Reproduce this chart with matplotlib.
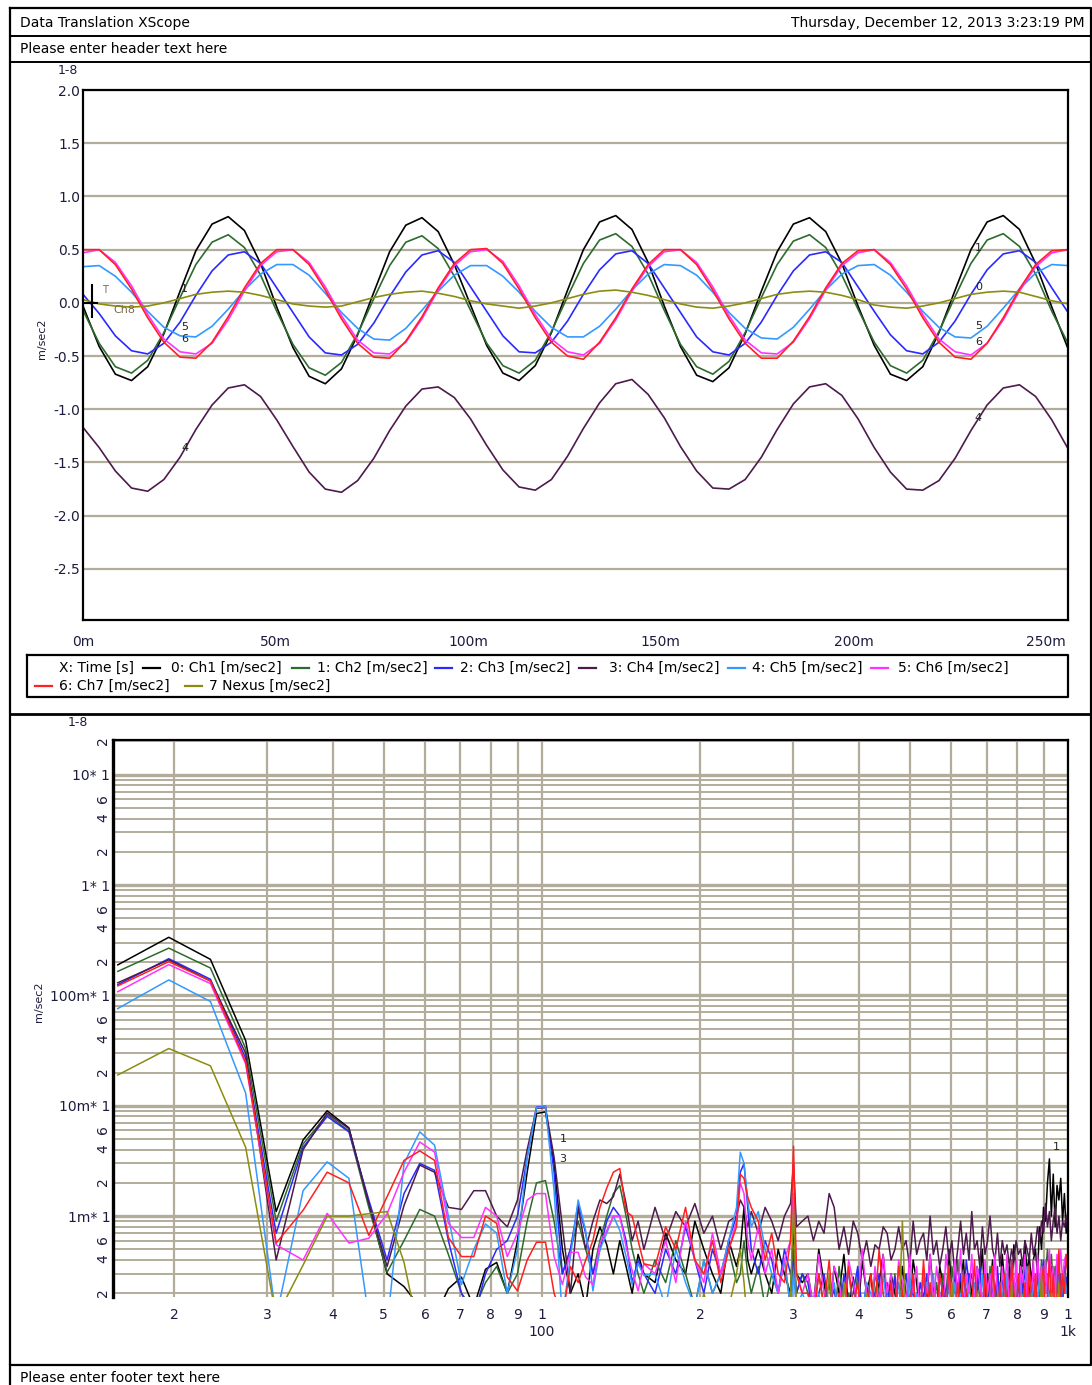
import numpy as np
import matplotlib
matplotlib.use("Agg")
import matplotlib.pyplot as plt
from matplotlib.ticker import NullLocator, NullFormatter

# ---- time record (top plot), t in ms ----
t_ms = [0.0, 4.2, 8.4, 12.6, 16.8, 21.0, 25.2, 29.3, 33.5, 37.7, 41.9, 46.1,
        50.3, 54.5, 58.7, 62.9, 67.1, 71.3, 75.5, 79.6, 83.8, 88.0, 92.2, 96.4,
        100.6, 104.8, 109.0, 113.2, 117.4, 121.6, 125.8, 129.9, 134.1, 138.3, 142.5, 146.7,
        150.9, 155.1, 159.3, 163.5, 167.7, 171.9, 176.1, 180.2, 184.4, 188.6, 192.8, 197.0,
        201.2, 205.4, 209.6, 213.8, 218.0, 222.2, 226.4, 230.5, 234.7, 238.9, 243.1, 247.3,
        251.5, 255.7]

ch1 = [-0.03, -0.41, -0.67, -0.73, -0.60, -0.29, 0.11, 0.49, 0.74, 0.81, 0.68, 0.37,
       -0.04, -0.42, -0.69, -0.76, -0.62, -0.30, 0.10, 0.48, 0.73, 0.80, 0.67, 0.36,
       -0.02, -0.40, -0.66, -0.73, -0.59, -0.28, 0.12, 0.50, 0.76, 0.82, 0.69, 0.38,
       -0.03, -0.41, -0.68, -0.74, -0.61, -0.29, 0.11, 0.48, 0.74, 0.80, 0.67, 0.37,
       -0.03, -0.40, -0.67, -0.73, -0.60, -0.28, 0.12, 0.50, 0.76, 0.82, 0.69, 0.37,
       -0.04, -0.43]
ch2 = [-0.07, -0.38, -0.60, -0.66, -0.54, -0.28, 0.05, 0.36, 0.57, 0.64, 0.52, 0.26,
       -0.08, -0.39, -0.61, -0.68, -0.56, -0.29, 0.04, 0.35, 0.57, 0.63, 0.51, 0.25,
       -0.07, -0.38, -0.59, -0.66, -0.54, -0.27, 0.06, 0.37, 0.59, 0.65, 0.53, 0.27,
       -0.07, -0.39, -0.60, -0.67, -0.55, -0.28, 0.05, 0.36, 0.58, 0.64, 0.52, 0.26,
       -0.06, -0.37, -0.59, -0.66, -0.54, -0.27, 0.06, 0.37, 0.59, 0.65, 0.53, 0.27,
       -0.08, -0.38]
ch3 = [0.08, -0.10, -0.31, -0.45, -0.48, -0.38, -0.18, 0.07, 0.30, 0.45, 0.48, 0.37,
       0.14, -0.09, -0.32, -0.47, -0.49, -0.39, -0.19, 0.06, 0.29, 0.45, 0.49, 0.38,
       0.15, -0.08, -0.31, -0.46, -0.47, -0.37, -0.17, 0.08, 0.31, 0.46, 0.49, 0.37,
       0.14, -0.09, -0.32, -0.46, -0.49, -0.38, -0.18, 0.07, 0.30, 0.45, 0.48, 0.38,
       0.15, -0.08, -0.30, -0.45, -0.48, -0.37, -0.17, 0.08, 0.31, 0.46, 0.49, 0.38,
       0.14, -0.09]
ch4 = [-1.17, -1.36, -1.58, -1.74, -1.77, -1.66, -1.45, -1.19, -0.96, -0.80, -0.77, -0.88,
       -1.10, -1.35, -1.59, -1.75, -1.78, -1.67, -1.46, -1.20, -0.97, -0.81, -0.79, -0.89,
       -1.09, -1.34, -1.57, -1.73, -1.76, -1.66, -1.44, -1.18, -0.94, -0.76, -0.72, -0.86,
       -1.08, -1.35, -1.58, -1.74, -1.75, -1.66, -1.45, -1.19, -0.95, -0.79, -0.76, -0.87,
       -1.09, -1.36, -1.59, -1.75, -1.76, -1.67, -1.46, -1.20, -0.96, -0.80, -0.77, -0.88,
       -1.10, -1.37]
ch5 = [0.34, 0.35, 0.25, 0.10, -0.08, -0.23, -0.31, -0.32, -0.22, -0.06, 0.12, 0.27,
       0.36, 0.36, 0.26, 0.09, -0.09, -0.24, -0.34, -0.35, -0.24, -0.07, 0.11, 0.26,
       0.35, 0.35, 0.25, 0.10, -0.08, -0.23, -0.32, -0.32, -0.22, -0.06, 0.12, 0.27,
       0.36, 0.35, 0.26, 0.10, -0.09, -0.24, -0.33, -0.34, -0.23, -0.06, 0.12, 0.27,
       0.35, 0.36, 0.26, 0.10, -0.08, -0.23, -0.32, -0.33, -0.22, -0.05, 0.13, 0.28,
       0.36, 0.35]
ch6 = [0.47, 0.50, 0.38, 0.16, -0.11, -0.34, -0.46, -0.48, -0.38, -0.16, 0.11, 0.35,
       0.48, 0.50, 0.38, 0.15, -0.12, -0.35, -0.47, -0.48, -0.37, -0.15, 0.12, 0.35,
       0.48, 0.50, 0.39, 0.16, -0.11, -0.34, -0.46, -0.49, -0.38, -0.16, 0.11, 0.34,
       0.48, 0.50, 0.38, 0.15, -0.12, -0.35, -0.47, -0.48, -0.37, -0.15, 0.12, 0.35,
       0.47, 0.50, 0.38, 0.16, -0.11, -0.34, -0.46, -0.49, -0.38, -0.16, 0.11, 0.34,
       0.47, 0.50]
ch7 = [0.50, 0.50, 0.36, 0.13, -0.14, -0.37, -0.51, -0.52, -0.37, -0.13, 0.14, 0.37,
       0.50, 0.50, 0.36, 0.12, -0.15, -0.38, -0.51, -0.52, -0.36, -0.13, 0.14, 0.37,
       0.50, 0.51, 0.37, 0.13, -0.14, -0.37, -0.50, -0.53, -0.37, -0.14, 0.13, 0.36,
       0.50, 0.50, 0.36, 0.12, -0.15, -0.38, -0.52, -0.52, -0.36, -0.13, 0.14, 0.37,
       0.49, 0.50, 0.36, 0.13, -0.14, -0.37, -0.51, -0.53, -0.38, -0.14, 0.13, 0.36,
       0.49, 0.50]
nexus = [0.03, -0.01, -0.03, -0.04, -0.03, 0.00, 0.04, 0.08, 0.10, 0.11, 0.10, 0.07,
         0.03, -0.01, -0.03, -0.04, -0.03, 0.01, 0.05, 0.08, 0.10, 0.11, 0.09, 0.06,
         0.02, -0.01, -0.03, -0.05, -0.03, 0.00, 0.04, 0.08, 0.11, 0.12, 0.10, 0.07,
         0.03, -0.01, -0.04, -0.05, -0.03, 0.00, 0.04, 0.08, 0.10, 0.11, 0.10, 0.07,
         0.03, -0.02, -0.04, -0.05, -0.03, 0.00, 0.04, 0.08, 0.10, 0.11, 0.10, 0.06,
         0.02, -0.01]

# ---- spectrum (bottom plot): FFT bin numbers, bin width 1/0.256 s ----
bins = [4, 5, 6, 7, 8, 9, 10, 11, 12, 13, 14, 15, 16, 17, 18, 19, 20, 21, 22, 23, 24,
        25, 26, 27, 28, 29, 30, 31, 32, 33, 34, 35, 36, 37, 38, 39, 40,
        42, 44, 46, 48, 50, 52, 54, 56, 58, 60, 61, 62, 63, 64, 66, 68, 70, 72, 74, 76,
        77, 78, 80,
        82, 84, 86, 88, 90, 92, 94, 96, 98, 100, 102, 104, 106, 108, 110, 112, 114, 116,
        118, 120, 122, 124, 126, 128, 130, 132, 134, 136, 138, 140, 142, 144, 146, 148,
        150, 152, 154, 156, 158, 160, 162, 164, 166, 168, 170, 172, 174, 176, 178, 180,
        182, 184, 186, 188, 190, 192, 194, 196, 198, 200, 202, 204, 206, 208, 210, 212,
        214, 216, 218, 220, 222, 224, 226, 228, 230, 232, 234, 236, 238, 240, 242, 244,
        246, 248, 250, 252, 254, 256]
bin_hz = 1 / 0.256

# magnitudes in milli m/sec2
sp1 = [189, 336, 212, 39, 1.1, 4.9, 9.0, 6.3, 1.3, 0.30, 0.23, 0.15, 0.12, 0.22, 0.28, 0.15,
       0.33, 0.38, 0.20, 0.60, 2.5, 8.5, 8.8, 3.0, 0.50, 0.20, 0.30, 0.15, 0.50, 0.80, 0.55,
       0.30, 0.60, 0.35, 0.20, 0.45, 0.30,
       0.25, 0.7, 0.4, 0.3, 0.9, 0.5, 0.3, 0.2, 0.6, 0.35, 0.5, 1.2, 0.4, 0.3, 0.5, 0.3, 0.2,
       0.5, 0.3, 0.2, 0.8, 0.3, 0.25,
       0.3, 0.15, 0.5, 0.25, 0.12, 0.35, 0.2, 0.45, 0.15, 0.28,
       0.12, 0.4, 0.2, 0.3, 0.12, 0.25, 0.45, 0.15, 0.3, 0.2,
       0.12, 0.35, 0.2, 0.15, 0.4, 0.25, 0.12, 0.3, 0.18, 0.45,
       0.2, 0.12, 0.35, 0.25, 0.15, 0.5, 0.2, 0.3, 0.12, 0.25,
       0.4, 0.15, 0.3, 0.2, 0.12, 0.35, 0.25, 0.5, 0.15, 0.3,
       0.2, 0.4, 0.12, 0.3, 0.2, 0.45, 0.25, 0.15, 0.35, 0.2,
       0.55, 0.3, 0.2, 0.4, 0.25, 0.6, 0.3, 0.45, 0.25, 0.4,
       0.5, 0.3, 0.8, 0.5, 1.2, 0.9, 2.0, 3.3, 1.0, 2.4,
       0.8, 1.9, 1.4, 2.2, 0.9, 1.6, 0.7, 1.2]
sp2 = [165, 268, 177, 33, 0.9, 4.5, 8.3, 5.9, 1.2, 0.31, 0.6, 1.15, 1.0, 0.45, 0.2, 0.14,
       0.25, 0.35, 0.2, 0.3, 0.9, 2.0, 2.1, 0.9, 0.3, 0.5, 0.9, 0.5, 0.3, 0.6, 1.0, 1.6, 1.9,
       1.0, 0.5, 0.3, 0.2,
       0.4, 0.25, 0.6, 0.3, 0.15, 0.4, 0.2, 0.3, 0.5, 0.25, 0.3, 0.6, 0.3, 0.2, 0.35, 0.15,
       0.3, 0.2, 0.4, 0.15, 0.5, 0.2, 0.3,
       0.2, 0.12, 0.3, 0.15, 0.25, 0.1, 0.35, 0.15, 0.2, 0.12,
       0.3, 0.15, 0.22, 0.1, 0.3, 0.2, 0.12, 0.25, 0.15, 0.3,
       0.12, 0.2, 0.15, 0.28, 0.1, 0.2, 0.15, 0.3, 0.12, 0.22,
       0.15, 0.25, 0.12, 0.3, 0.2, 0.1, 0.35, 0.2, 0.4, 0.15,
       0.3, 0.2, 0.25, 0.15, 0.12, 0.3, 0.18, 0.1, 0.25, 0.15,
       0.35, 0.12, 0.2, 0.3, 0.15, 0.1, 0.25, 0.2, 0.12, 0.3,
       0.15, 0.22, 0.12, 0.35, 0.2, 0.15, 0.3, 0.12, 0.25, 0.2,
       0.15, 0.3, 0.2, 0.4, 0.25, 0.3, 0.5, 0.3, 0.45, 0.25,
       0.35, 0.2, 0.3, 0.15, 0.25, 0.35, 0.2, 0.3]
sp3 = [125, 215, 140, 27, 0.7, 4.2, 8.0, 5.8, 1.4, 0.4, 1.6, 3.0, 2.6, 0.6, 0.2, 0.12, 0.3,
       0.5, 0.6, 1.0, 3.4, 9.7, 9.9, 2.5, 0.3, 0.5, 1.3, 0.7, 0.3, 0.5, 0.9, 1.2, 1.0, 0.6,
       0.25, 0.4, 0.3,
       0.2, 0.5, 0.3, 0.8, 0.4, 0.2, 0.5, 0.3, 0.6, 1.0, 2.5, 3.0, 1.2, 0.5, 0.3, 0.6, 0.4,
       0.2, 0.5, 0.3, 0.4, 0.2, 0.3,
       0.25, 0.12, 0.2, 0.3, 0.15, 0.22, 0.1, 0.3, 0.15, 0.2,
       0.35, 0.12, 0.25, 0.15, 0.2, 0.3, 0.1, 0.22, 0.15, 0.28,
       0.12, 0.2, 0.3, 0.15, 0.22, 0.1, 0.25, 0.18, 0.3, 0.12,
       0.22, 0.15, 0.3, 0.2, 0.12, 0.28, 0.15, 0.35, 0.2, 0.3,
       0.15, 0.4, 0.25, 0.3, 0.12, 0.2, 0.35, 0.15, 0.25, 0.1,
       0.3, 0.2, 0.15, 0.35, 0.12, 0.25, 0.3, 0.15, 0.2, 0.4,
       0.15, 0.25, 0.12, 0.3, 0.2, 0.35, 0.15, 0.25, 0.12, 0.3,
       0.2, 0.35, 0.15, 0.25, 0.4, 0.2, 0.3, 0.15, 0.35, 0.2,
       0.25, 0.4, 0.2, 0.3, 0.15, 0.35, 0.25, 0.3]
sp4 = [130, 210, 135, 30, 0.4, 4.0, 8.6, 6.2, 1.3, 0.35, 1.25, 2.9, 2.5, 1.2, 1.15, 1.7,
       1.7, 1.0, 0.8, 1.4, 4.0, 9.5, 9.6, 3.4, 0.8, 0.2, 1.2, 0.5, 0.9, 1.4, 1.3, 1.5, 2.4,
       1.3, 0.6, 0.9, 0.5,
       1.2, 0.6, 1.1, 0.8, 1.3, 0.7, 1.0, 0.5, 0.9, 1.0, 1.4, 1.2, 0.8, 1.1, 0.7, 1.2, 0.9,
       0.6, 1.0, 1.3, 3.0, 0.8, 0.9,
       1.0, 0.6, 0.9, 0.7, 1.6, 1.2, 0.5, 0.8, 0.45, 0.9,
       0.7, 0.4, 0.6, 0.35, 0.55, 0.5, 0.8, 0.7, 0.4, 0.5,
       0.8, 0.5, 0.6, 0.35, 0.9, 0.45, 0.6, 0.7, 0.4, 1.0,
       0.45, 0.6, 0.35, 0.5, 0.8, 0.4, 0.6, 0.3, 0.5, 0.9,
       0.45, 0.7, 0.4, 1.1, 0.5, 0.6, 0.35, 0.8, 0.45, 0.6,
       1.0, 0.5, 0.4, 0.7, 0.35, 0.6, 0.45, 0.55, 0.35, 0.5,
       0.4, 0.6, 0.45, 0.5, 0.35, 0.6, 0.5, 0.4, 0.7, 0.45,
       0.55, 0.8, 0.6, 0.9, 0.7, 1.3, 0.8, 1.1, 0.6, 0.9,
       1.2, 0.7, 1.0, 0.6, 0.9, 0.8, 1.0, 0.7]
sp5 = [76, 138, 88, 13, 0.12, 1.7, 3.1, 2.2, 0.12, 0.1, 3.0, 5.8, 4.4, 1.0, 0.24, 0.5,
       0.85, 0.7, 0.2, 0.5, 3.4, 9.6, 9.8, 1.7, 0.12, 0.43, 1.4, 0.74, 0.21, 0.5, 0.7, 1.0,
       0.74, 0.43, 0.24, 0.37, 0.29,
       0.3, 0.15, 0.5, 0.25, 0.15, 0.4, 0.2, 0.3, 0.6, 1.2, 3.8, 3.0, 1.4, 0.8, 1.1, 0.5, 0.3,
       0.2, 0.4, 0.15, 0.3, 0.15, 0.2,
       0.15, 0.12, 0.2, 0.1, 0.15, 0.25, 0.12, 0.2, 0.3, 0.15,
       0.1, 0.12, 0.25, 0.2, 0.12, 0.1, 0.3, 0.15, 0.2, 0.12,
       0.25, 0.15, 0.1, 0.3, 0.12, 0.2, 0.15, 0.12, 0.25, 0.15,
       0.3, 0.12, 0.2, 0.1, 0.15, 0.35, 0.12, 0.25, 0.15, 0.2,
       0.12, 0.3, 0.15, 0.1, 0.25, 0.2, 0.12, 0.3, 0.15, 0.1,
       0.2, 0.35, 0.15, 0.12, 0.25, 0.2, 0.1, 0.3, 0.15, 0.22,
       0.12, 0.25, 0.15, 0.3, 0.1, 0.2, 0.35, 0.15, 0.12, 0.25,
       0.2, 0.15, 0.3, 0.12, 0.35, 0.2, 0.25, 0.15, 0.3, 0.2,
       0.12, 0.35, 0.2, 0.15, 0.25, 0.3, 0.2, 0.25]
sp6 = [108, 190, 128, 24, 0.55, 0.4, 1.06, 0.57, 0.63, 1.05, 2.5, 4.7, 3.8, 0.86, 0.64,
       0.64, 1.2, 1.0, 0.43, 0.7, 1.4, 1.6, 1.6, 0.43, 0.24, 0.47, 0.47, 0.28, 0.24, 0.57,
       0.74, 1.0, 1.0, 0.53, 0.32, 0.21, 0.37,
       0.3, 0.6, 0.25, 0.9, 0.4, 0.25, 0.7, 0.3, 0.5, 0.9, 2.0, 1.6, 0.6, 0.4, 0.8, 0.3, 0.5,
       0.2, 0.4, 0.6, 1.6, 0.3, 0.2,
       0.3, 0.15, 0.45, 0.2, 0.12, 0.35, 0.25, 0.12, 0.4, 0.25,
       0.15, 0.5, 0.2, 0.12, 0.35, 0.15, 0.45, 0.2, 0.3, 0.12,
       0.4, 0.25, 0.15, 0.45, 0.2, 0.35, 0.12, 0.3, 0.2, 0.45,
       0.15, 0.35, 0.2, 0.12, 0.45, 0.25, 0.15, 0.4, 0.2, 0.5,
       0.12, 0.3, 0.2, 0.45, 0.15, 0.35, 0.25, 0.12, 0.4, 0.2,
       0.3, 0.15, 0.45, 0.2, 0.12, 0.35, 0.2, 0.45, 0.15, 0.3,
       0.2, 0.4, 0.12, 0.35, 0.25, 0.45, 0.15, 0.3, 0.2, 0.4,
       0.15, 0.45, 0.25, 0.35, 0.15, 0.4, 0.2, 0.5, 0.25, 0.35,
       0.2, 0.45, 0.3, 0.5, 0.25, 0.4, 0.45, 0.3]
sp7 = [122, 202, 135, 25, 0.57, 1.13, 2.5, 2.0, 0.67, 1.5, 3.2, 3.9, 3.2, 0.64, 0.43, 0.43,
       1.0, 0.86, 0.28, 0.21, 0.4, 0.58, 0.58, 0.2, 0.12, 0.35, 0.25, 0.4, 0.6, 1.2, 1.8,
       2.5, 2.7, 1.1, 1.0, 0.6, 0.37,
       0.35, 0.8, 0.5, 1.2, 0.4, 0.3, 0.6, 0.25, 0.5, 0.8, 2.4, 2.2, 1.5, 1.2, 0.9, 0.4, 0.7,
       0.3, 0.25, 0.6, 4.3, 0.3, 0.2,
       0.2, 0.12, 0.3, 0.15, 0.4, 0.1, 0.2, 0.12, 0.35, 0.15,
       0.25, 0.1, 0.12, 0.3, 0.15, 0.5, 0.2, 0.12, 0.25, 0.1,
       0.35, 0.2, 0.12, 0.15, 0.3, 0.1, 0.12, 0.4, 0.15, 0.25,
       0.12, 0.1, 0.3, 0.2, 0.12, 0.35, 0.15, 0.1, 0.25, 0.12,
       0.3, 0.2, 0.1, 0.15, 0.4, 0.12, 0.2, 0.1, 0.3, 0.15,
       0.12, 0.35, 0.2, 0.1, 0.25, 0.12, 0.3, 0.15, 0.1, 0.4,
       0.2, 0.12, 0.3, 0.15, 0.1, 0.25, 0.12, 0.35, 0.2, 0.1,
       0.3, 0.15, 0.12, 0.25, 0.35, 0.12, 0.2, 0.4, 0.15, 0.3,
       0.12, 0.2, 0.5, 0.15, 0.3, 0.2, 0.45, 0.3]
sp8 = [19, 33, 23, 4.2, 0.12, 0.36, 1.0, 1.0, 1.05, 1.1, 0.38, 0.08, 0.1, 0.08, 0.12, 0.1,
       0.08, 0.1, 0.15, 0.1, 0.08, 0.1, 0.12, 0.08, 0.1, 0.08, 0.15, 0.1, 0.08, 0.12, 0.1,
       0.08, 0.12, 0.1, 0.08, 0.1, 0.15,
       0.1, 0.08, 0.12, 0.1, 0.08, 0.2, 0.1, 0.08, 0.15, 0.3, 0.5, 0.25, 0.1, 0.08, 0.12, 0.1,
       0.08, 0.15, 0.1, 0.2, 1.2, 0.15, 0.1,
       0.1, 0.08, 0.12, 0.08, 0.3, 0.1, 0.08, 0.25, 0.1, 0.08,
       0.12, 0.08, 0.2, 0.1, 0.08, 0.12, 0.08, 0.1, 0.15, 0.08,
       0.1, 0.9, 0.1, 0.08, 0.12, 0.1, 0.08, 0.15, 0.1, 0.08,
       0.2, 0.1, 0.08, 0.12, 0.08, 0.1, 0.25, 0.08, 0.1, 0.12,
       0.08, 0.1, 0.15, 0.08, 0.1, 0.2, 0.08, 0.1, 0.12, 0.08,
       0.1, 0.15, 0.08, 0.2, 0.1, 0.08, 0.12, 0.1, 0.08, 0.25,
       0.1, 0.08, 0.12, 0.1, 0.08, 0.15, 0.1, 0.08, 0.2, 0.1,
       0.08, 0.12, 0.1, 0.3, 0.08, 0.1, 0.15, 0.08, 0.2, 0.1,
       0.08, 0.12, 0.25, 0.1, 0.08, 0.15, 0.1, 0.08]

names = ["0: Ch1 [m/sec2]", "1: Ch2 [m/sec2]", "2: Ch3 [m/sec2]", "3: Ch4 [m/sec2]",
         "4: Ch5 [m/sec2]", "5: Ch6 [m/sec2]", "6: Ch7 [m/sec2]", "7 Nexus [m/sec2]"]
colors = ["#000000", "#2d6b2d", "#2a2aff", "#4d1a4d", "#3399ff", "#ff33ff", "#ff2020", "#8c8c10"]
waves = [ch1, ch2, ch3, ch4, ch5, ch6, ch7, nexus]
spectra = [sp1, sp2, sp3, sp4, sp5, sp6, sp7, sp8]

grid_col = "#b2ad9b"
lab_col = "#1c1c3c"

plt.rcParams["font.family"] = "DejaVu Sans"
plt.rcParams["font.size"] = 10

W, H = 1092, 1385
fig = plt.figure(figsize=(W / 100, H / 100), dpi=100)

# page frame, drawn in pixel units
bg = fig.add_axes([0, 0, 1, 1])
bg.set_xlim(0, W)
bg.set_ylim(H, 0)
bg.axis("off")
bg.plot([10, 1091, 1091, 10, 10], [8, 8, 1365, 1365, 8], color="black", lw=1.6)
for yy in [36, 62]:
    bg.plot([10, 1091], [yy, yy], color="black", lw=1.4)
bg.plot([10, 1091], [714, 714], color="black", lw=2.0)
bg.plot([10, 10], [1365, 1385], color="black", lw=1.6)
bg.text(20, 23, "Data Translation XScope", va="center", fontsize=10)
bg.text(1085, 23, "Thursday, December 12, 2013 3:23:19 PM", va="center", ha="right", fontsize=10)
bg.text(20, 49, "Please enter header text here", va="center", fontsize=10)
bg.text(20, 1378, "Please enter footer text here", va="center", fontsize=10)
bg.text(58, 71, "1-8", va="center", fontsize=9, color=lab_col)
bg.text(68, 722, "1-8", va="center", fontsize=9, color=lab_col)

# legend box
bg.plot([27, 1068, 1068, 27, 27], [655, 655, 697, 697, 655], color="black", lw=1.6)
bg.text(59, 668, "X: Time [s]", va="center", fontsize=10)
row1_x = [(143, 171), (292, 317), (435, 460), (579, 609), (728, 752), (871, 898)]
for (lx, tx), name, col in zip(row1_x, names[:6], colors[:6]):
    bg.plot([lx, lx + 17], [668, 668], color=col, lw=1.6)
    bg.text(tx, 668, name, va="center", fontsize=10)
row2_x = [(35, 59), (185, 209)]
for (lx, tx), name, col in zip(row2_x, names[6:], colors[6:]):
    bg.plot([lx, lx + 17], [686, 686], color=col, lw=1.6)
    bg.text(tx, 686, name, va="center", fontsize=10)


def px_axes(x0, y0, x1, y1):
    return fig.add_axes([x0 / W, 1 - y1 / H, (x1 - x0) / W, (y1 - y0) / H])


# ---- top: time record ----
ax1 = px_axes(83, 90, 1068, 620)
for vals, col in zip(waves, colors):
    ax1.plot(t_ms, vals, color=col, lw=1.2)
ax1.set_xlim(0, 255.7)
ax1.set_ylim(-2.98, 2.0)
ax1.set_xticks([0, 50, 100, 150, 200, 250])
ax1.set_xticklabels(["0m", "50m", "100m", "150m", "200m", "250m"])
ax1.set_xticks([100, 150, 200, 250], minor=True)
yt = [-2.5, -2.0, -1.5, -1.0, -0.5, 0.0, 0.5, 1.0, 1.5, 2.0]
ax1.set_yticks(yt)
ax1.set_yticklabels([f"{v:.1f}" for v in yt])
ax1.set_axisbelow(True)
ax1.grid(axis="y", which="major", color=grid_col, lw=1.6)
ax1.grid(axis="x", which="minor", color=grid_col, lw=1.6)
ax1.tick_params(which="both", length=0, colors=lab_col)
ax1.tick_params(axis="x", pad=11)
ax1.tick_params(axis="y", pad=2)
for sp in ax1.spines.values():
    sp.set_linewidth(1.6)
ax1.set_ylabel("m/sec2", fontsize=8, color=lab_col)
ax1.yaxis.set_label_coords(-0.037, 0.53)

# trigger marker and trace numbers
ax1.plot([2.4, 2.4], [0.17, -0.13], color="black", lw=1.5)
ax1.plot([0, 3.6], [0, 0], color="black", lw=1.5)
ax1.text(5.0, 0.12, "T", fontsize=7, color="#7a6a50", va="center")
ax1.text(8.0, -0.07, "Ch8", fontsize=8, color="#7a6a50", va="center")
for tx, yv, s in [(25.5, 0.13, "1"), (25.5, -0.23, "5"), (25.5, -0.34, "6"), (25.5, -1.36, "4"),
                  (231.5, 0.52, "1"), (231.5, 0.15, "0"), (231.5, -0.22, "5"),
                  (231.5, -0.37, "6"), (231.5, -1.08, "4")]:
    ax1.text(tx, yv, s, fontsize=8, color="#222222", va="center")

# ---- bottom: spectrum ----
ax2 = px_axes(113, 740, 1068, 1297)
freqs = np.array(bins) * bin_hz
for vals, col in zip(spectra, colors):
    ax2.plot(freqs, np.array(vals) * 1e-3, color=col, lw=1.1)
ax2.set_xscale("log")
ax2.set_yscale("log")
ax2.set_xlim(15.3, 1000)
ax2.set_ylim(1.85e-4, 20.6)

xt = [20, 30, 40, 50, 60, 70, 80, 90, 100, 200, 300, 400, 500, 600, 700, 800, 900, 1000]
xl = ["2", "3", "4", "5", "6", "7", "8", "9", "1\n100", "2", "3", "4", "5", "6", "7", "8", "9", "1\n1k"]
ax2.set_xticks(xt)
ax2.set_xticklabels(xl, linespacing=1.3, va="top")
ax2.xaxis.set_minor_locator(NullLocator())
ax2.xaxis.set_minor_formatter(NullFormatter())

ygrid = [m * 10.0 ** e for e in range(-4, 2) for m in range(1, 10)]
ygrid = [v for v in ygrid if 1.9e-4 < v < 20.5]
ax2.yaxis.set_minor_locator(plt.FixedLocator(ygrid))
ax2.yaxis.set_minor_formatter(NullFormatter())
ylv = [2e-4, 4e-4, 6e-4, 1e-3, 2e-3, 4e-3, 6e-3, 1e-2, 2e-2, 4e-2, 6e-2,
       0.1, 0.2, 0.4, 0.6, 1, 2, 4, 6, 10, 20]
yll = ["2", "4", "6", "1m* 1", "2", "4", "6", "10m* 1", "2", "4", "6",
       "100m* 1", "2", "4", "6", "1* 1", "2", "4", "6", "10* 1", "2"]
ax2.set_yticks(ylv)
ax2.set_yticklabels(yll)
for lab, s in zip(ax2.get_yticklabels(), yll):
    if len(s) == 1:
        lab.set_rotation(90)
ax2.set_axisbelow(True)
ax2.grid(axis="y", which="both", color=grid_col, lw=1.4)
ax2.grid(axis="x", which="major", color=grid_col, lw=1.6)
for dec in [1e-3, 1e-2, 1e-1, 1, 10]:
    ax2.axhline(dec, color=grid_col, lw=2.4, zorder=0.5)
ax2.tick_params(which="both", length=0, colors=lab_col)
ax2.tick_params(axis="x", pad=8)
ax2.tick_params(axis="y", pad=2)
ax2.spines["bottom"].set_visible(False)
ax2.spines["left"].set_linewidth(2.4)
ax2.spines["top"].set_linewidth(1.6)
ax2.spines["right"].set_linewidth(1.6)
ax2.set_ylabel("m/sec2", fontsize=8, color=lab_col)
ax2.yaxis.set_label_coords(-0.072, 0.53)

ax2.text(108, 5.0e-3, "1", fontsize=8, color="#222222", va="center")
ax2.text(108, 3.3e-3, "3", fontsize=8, color="#222222", va="center")
ax2.text(935, 4.2e-3, "1", fontsize=8, color="#222222", va="center")

fig.savefig("out.png", dpi=100)
